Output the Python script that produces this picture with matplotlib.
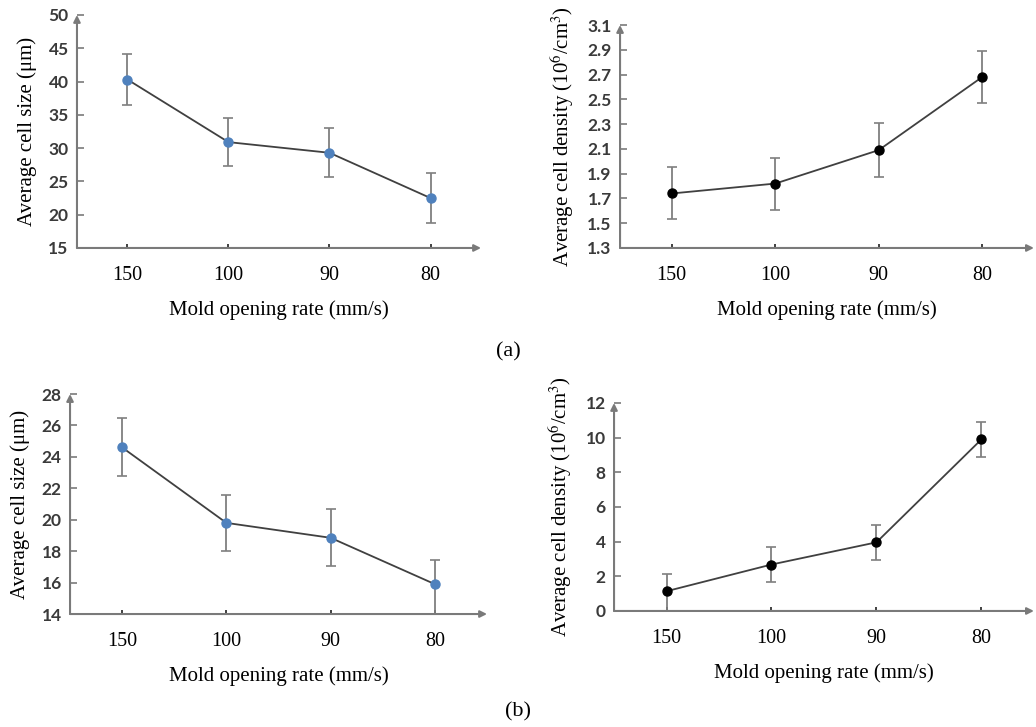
import matplotlib.pyplot as plt

rates = ["150", "100", "90", "80"]

size_a = [40.3, 30.9, 29.3, 22.5]
size_a_err = [3.8, 3.65, 3.7, 3.75]
dens_a = [1.74, 1.82, 2.09, 2.68]
dens_a_err = [0.21, 0.21, 0.215, 0.21]

size_b = [24.6, 19.8, 18.85, 15.9]
size_b_err_lo = [1.8, 1.78, 1.8, 2.0]
size_b_err_hi = [1.85, 1.8, 1.85, 1.53]
dens_b = [1.14, 2.68, 3.96, 9.9]
dens_b_err_lo = [1.2, 1.02, 1.03, 1.0]
dens_b_err_hi = [1.02, 1.01, 1.02, 1.0]

plt.rcParams['mathtext.fontset'] = 'stix'
serif = 'Liberation Serif'
tickfont = 'Lato'
axis_gray = '#7a7a7a'


def style_yticks(ax):
    for lab in ax.get_yticklabels():
        lab.set_fontfamily(tickfont)
        lab.set_fontsize(12.5)
        lab.set_fontweight('bold')
        lab.set_color('#3a3a3a')


def draw(ax, vals, err, ylim, yticks, ylabel, mcolor):
    x = range(len(rates))
    ax.errorbar(x, vals, yerr=err, fmt='none', ecolor='#7f7f7f',
                elinewidth=1.3, capsize=3.5, capthick=1.2, zorder=2)
    ax.plot(x, vals, '-', color='#404040', lw=1.3, zorder=3)
    ax.plot(x, vals, 'o', color=mcolor, ms=6.5, zorder=4)
    ax.set_xlim(-0.5, 3.5)
    ax.set_ylim(*ylim)
    ax.set_yticks(yticks)
    ax.set_xticks(list(x))
    ax.set_xticklabels(rates, fontfamily=serif, fontsize=14.5)
    style_yticks(ax)
    ax.tick_params(axis='y', direction='in', length=5, width=1.2,
                   color=axis_gray, pad=6)
    ax.tick_params(axis='x', direction='in', length=3, width=1.4,
                   color='#404040', pad=13)
    for s in ax.spines.values():
        s.set_visible(False)
    ax.annotate('', xy=(1.0, 0), xytext=(0, 0), xycoords='axes fraction',
                arrowprops=dict(arrowstyle='-|>', color=axis_gray, lw=1.5,
                                mutation_scale=10, shrinkA=0, shrinkB=0))
    ax.annotate('', xy=(0, 1.0), xytext=(0, 0), xycoords='axes fraction',
                arrowprops=dict(arrowstyle='-|>', color=axis_gray, lw=1.5,
                                mutation_scale=10, shrinkA=0, shrinkB=0))
    ax.set_xlabel('Mold opening rate (mm/s)', fontfamily=serif,
                  fontsize=15, labelpad=11)
    ax.set_ylabel(ylabel, fontfamily=serif, fontsize=15, labelpad=8)


fig = plt.figure(figsize=(10.36, 7.27), dpi=100)

ax1 = fig.add_axes([0.0743, 0.6589, 0.39, 0.3205])
draw(ax1, size_a, size_a_err, (15, 50), range(15, 51, 5),
     'Average cell size (μm)', '#4f81bd')

ax2 = fig.add_axes([0.5985, 0.6589, 0.3995, 0.3067])
draw(ax2, dens_a, dens_a_err, (1.3, 3.1),
     [1.3, 1.5, 1.7, 1.9, 2.1, 2.3, 2.5, 2.7, 2.9, 3.1],
     r'Average cell density (10$^{6}$/cm$^{3}$)', 'black')
ax2.set_yticklabels(['1.3', '1.5', '1.7', '1.9', '2.1', '2.3', '2.5', '2.7', '2.9', '3.1'])
style_yticks(ax2)

ax3 = fig.add_axes([0.0676, 0.1554, 0.4025, 0.3026])
draw(ax3, size_b, [size_b_err_lo, size_b_err_hi], (14, 28), range(14, 29, 2),
     'Average cell size (μm)', '#4f81bd')

ax4 = fig.add_axes([0.5927, 0.1596, 0.4053, 0.2861])
draw(ax4, dens_b, [dens_b_err_lo, dens_b_err_hi], (0, 12), range(0, 13, 2),
     r'Average cell density (10$^{6}$/cm$^{3}$)', 'black')

fig.text(0.4904, 1 - 352 / 727, '(a)', fontfamily=serif, fontsize=16,
         ha='center', va='center')
fig.text(0.5, 1 - 712 / 727, '(b)', fontfamily=serif, fontsize=16,
         ha='center', va='center')

fig.savefig('out.png', dpi=100)
